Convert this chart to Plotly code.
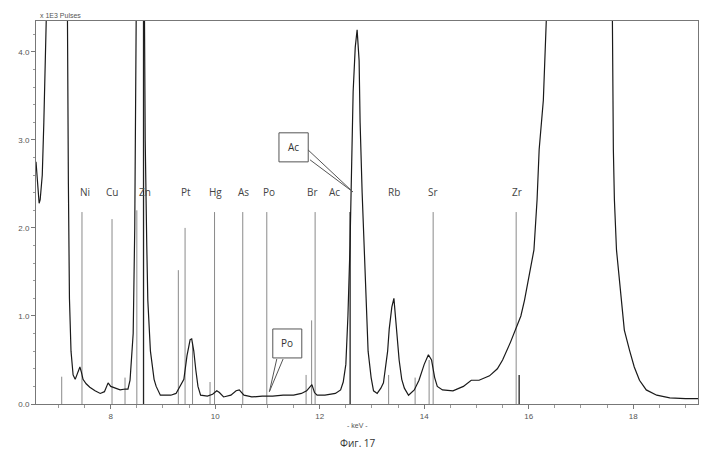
import plotly.graph_objects as go

# Spectrum (keV, x1E3 pulses)
spec_kev = [6.570, 6.600, 6.630, 6.650, 6.690, 6.720, 6.750, 6.800, 6.950, 7.100, 7.170, 7.190, 7.210,
            7.240, 7.280, 7.320, 7.360, 7.410, 7.440, 7.470, 7.530, 7.600, 7.700, 7.800, 7.880, 7.950,
            8.000, 8.080, 8.180, 8.280, 8.330, 8.370, 8.430, 8.460, 8.490, 8.550, 8.600, 8.640, 8.660,
            8.690, 8.710, 8.760, 8.830, 8.870, 8.950, 9.050, 9.150, 9.250, 9.330, 9.400, 9.460, 9.520,
            9.550, 9.590, 9.630, 9.670, 9.720, 9.850, 9.950, 10.030, 10.080, 10.160, 10.300, 10.400,
            10.460, 10.550, 10.700, 10.900, 11.100, 11.300, 11.500, 11.650, 11.750, 11.800, 11.850,
            11.900, 11.950, 12.100, 12.300, 12.400, 12.450, 12.500, 12.540, 12.580, 12.620, 12.640,
            12.680, 12.716, 12.754, 12.773, 12.812, 12.850, 12.888, 12.926, 12.984, 13.030, 13.100,
            13.170, 13.220, 13.300, 13.330, 13.380, 13.420, 13.470, 13.520, 13.570, 13.620, 13.700,
            13.810, 13.900, 14.000, 14.080, 14.140, 14.200, 14.250, 14.350, 14.550, 14.750, 14.900,
            15.050, 15.250, 15.400, 15.500, 15.650, 15.750, 15.850, 15.920, 16.020, 16.100, 16.160,
            16.200, 16.280, 16.350, 16.500, 17.000, 17.400, 17.600, 17.620, 17.640, 17.680, 17.770,
            17.830, 17.930, 18.020, 18.120, 18.250, 18.450, 18.700, 19.000, 19.240]
spec_val = [2.75, 2.55, 2.28, 2.32, 2.60, 3.20, 4.60, 7.00, 9.00, 7.00, 4.60, 2.50, 1.20,
            0.60, 0.33, 0.28, 0.35, 0.42, 0.36, 0.28, 0.23, 0.19, 0.15, 0.12, 0.14, 0.24,
            0.20, 0.18, 0.16, 0.17, 0.17, 0.27, 0.80, 2.00, 4.60, 8.00, 10.0, 5.00, 3.00,
            1.80, 1.18, 0.60, 0.28, 0.20, 0.10, 0.10, 0.10, 0.12, 0.20, 0.28, 0.55, 0.73,
            0.74, 0.60, 0.38, 0.20, 0.10, 0.09, 0.11, 0.15, 0.13, 0.08, 0.10, 0.15,
            0.16, 0.10, 0.08, 0.09, 0.09, 0.10, 0.10, 0.12, 0.15, 0.18, 0.22,
            0.13, 0.10, 0.10, 0.12, 0.16, 0.25, 0.45, 1.00, 1.80, 3.00, 3.55,
            4.05, 4.25, 3.90, 3.20, 2.40, 1.75, 1.10, 0.60, 0.30, 0.15, 0.12,
            0.18, 0.24, 0.60, 0.85, 1.10, 1.20, 0.88, 0.50, 0.28, 0.18, 0.10,
            0.16, 0.27, 0.45, 0.56, 0.50, 0.30, 0.20, 0.16, 0.15, 0.20, 0.27,
            0.27, 0.32, 0.40, 0.50, 0.70, 0.86, 1.00, 1.18, 1.50, 1.75, 2.32,
            2.89, 3.45, 4.35, 8.00, 15.0, 8.00, 4.50, 2.89, 2.32, 1.75, 1.18,
            0.84, 0.61, 0.42, 0.27, 0.16, 0.10, 0.07, 0.06, 0.06]

# Element line markers (gray)
mark_kev = [7.062, 7.450, 8.025, 8.274, 8.500, 9.294, 9.423, 9.566, 9.901, 9.987, 10.527, 10.987,
            11.739, 11.845, 11.912, 13.319, 13.826, 14.094, 14.171, 15.760]
mark_val = [0.31, 2.18, 2.10, 0.30, 2.20, 1.52, 2.00, 0.70, 0.25, 2.18, 2.18, 2.18,
            0.33, 0.95, 2.18, 0.33, 0.30, 0.50, 2.18, 2.18]
# Strong markers (black)
dark_kev = [8.628, 12.582, 15.817]
dark_val = [4.35, 2.18, 0.33]

# Element labels
lab_text = ["Ni", "Cu", "Zn", "Pt", "Hg", "As", "Po", "Br", "Ac", "Rb", "Sr", "Zr"]
lab_kev = [7.508, 8.025, 8.657, 9.442, 9.997, 10.533, 11.031, 11.854, 12.275, 13.424, 14.171, 15.779]
lab_y = 2.30

# Callouts: text, box (x0, x1, y0, y1), wedge base points and tip
callouts = [
    ("Ac", (11.22, 11.78, 2.75, 3.08), (11.777, 2.886), (11.815, 2.773), (12.633, 2.41)),
    ("Po", (11.102, 11.657, 0.523, 0.852), (11.178, 0.511), (11.299, 0.511), (11.037, 0.14)),
]

x_range = [6.57, 19.24]
y_range = [0, 4.35]

def segs(xs, ys):
    sx, sy = [], []
    for x, y in zip(xs, ys):
        sx += [x, x, None]
        sy += [0, y, None]
    return sx, sy

fig = go.Figure()
gx, gy = segs(mark_kev, mark_val)
fig.add_trace(go.Scatter(x=gx, y=gy, mode="lines", line=dict(color="#8a8a8a", width=1),
                         hoverinfo="skip", showlegend=False))
dx, dy = segs(dark_kev, dark_val)
fig.add_trace(go.Scatter(x=dx, y=dy, mode="lines", line=dict(color="#222222", width=1.3),
                         hoverinfo="skip", showlegend=False))
fig.add_trace(go.Scatter(x=spec_kev, y=spec_val, mode="lines",
                         line=dict(color="#1a1a1a", width=1.2), showlegend=False))

for t, k in zip(lab_text, lab_kev):
    fig.add_annotation(x=k, y=lab_y, text=t, showarrow=False, xref="x", yref="y",
                       font=dict(family="Open Sans", size=10, color="#444"), yanchor="bottom")

for t, (x0, x1, y0, y1), b1, b2, tip in callouts:
    fig.add_shape(type="rect", x0=x0, x1=x1, y0=y0, y1=y1, xref="x", yref="y",
                  line=dict(color="#555", width=1), fillcolor="white", layer="above")
    path = f"M {b1[0]},{b1[1]} L {tip[0]},{tip[1]} L {b2[0]},{b2[1]}"
    fig.add_shape(type="path", path=path, xref="x", yref="y",
                  line=dict(color="#555", width=1), layer="above")
    fig.add_annotation(x=(x0 + x1) / 2, y=(y0 + y1) / 2, text=t, showarrow=False,
                       font=dict(family="Open Sans", size=10, color="#333"))

fig.add_annotation(x=0, y=1, xref="paper", yref="paper", text="x 1E3 Pulses", showarrow=False,
                   xanchor="left", yanchor="bottom", xshift=2,
                   font=dict(family="Liberation Sans", size=7, color="#555"))
fig.add_annotation(x=0.486, y=0, xref="paper", yref="paper", text="- keV -", showarrow=False,
                   yanchor="top", yshift=-16, font=dict(family="Liberation Sans", size=7, color="#555"))
fig.add_annotation(x=0.486, y=0, xref="paper", yref="paper", text="Фиг. 17", showarrow=False,
                   yanchor="top", yshift=-30, font=dict(family="Open Sans", size=10, color="#333"))

# page has an 8px body margin, so the figure is sized to fit the window
fig.update_layout(
    width=708, height=449, margin=dict(l=28, r=18, t=13, b=53, autoexpand=False),
    paper_bgcolor="white", plot_bgcolor="white",
    xaxis=dict(range=x_range, tick0=8, dtick=2, ticks="outside", ticklen=4, tickcolor="#777",
               automargin=False,
               showgrid=False, zeroline=False, showline=True, linecolor="#777", mirror=True,
               tickfont=dict(family="Liberation Sans", size=8, color="#555"),
               minor=dict(dtick=0.5, tick0=8, ticks="outside", ticklen=3, tickcolor="#999")),
    yaxis=dict(range=y_range, dtick=1, tickformat=".1f", ticks="outside", ticklen=4, tickcolor="#777",
               automargin=False,
               showgrid=False, zeroline=False, showline=True, linecolor="#777", mirror=True,
               tickfont=dict(family="Liberation Sans", size=8, color="#555"),
               minor=dict(dtick=0.2, ticks="outside", ticklen=2, tickcolor="#999")),
)

fig.write_html("out.html")
